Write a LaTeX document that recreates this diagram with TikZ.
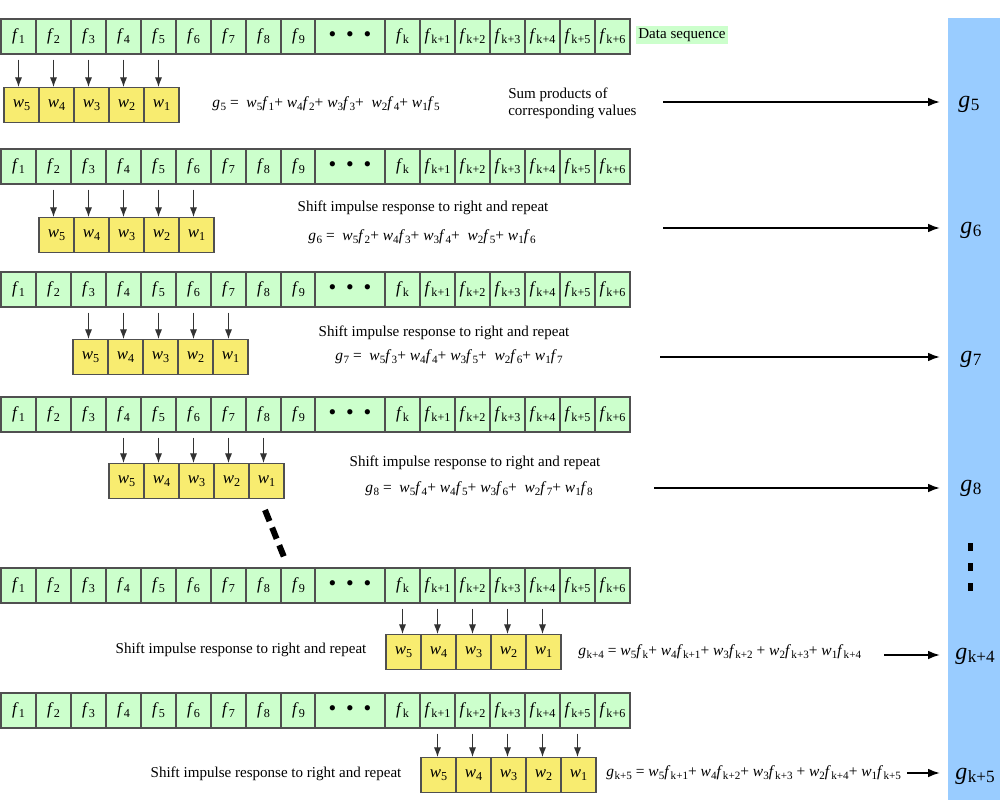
\documentclass[tikz,border=0pt]{standalone}
\usepackage{fontspec}
\setmainfont{Liberation Serif}
\usepackage{graphicx}
\usepackage{xcolor}
\usepackage{tikz}
\usetikzlibrary{calc}
\usetikzlibrary{arrows.meta}
\tikzset{>=latex}
\definecolor{datagreen}{RGB}{204,255,204}
\definecolor{wyellow}{RGB}{248,236,112}
\definecolor{barblue}{RGB}{153,204,255}
\definecolor{cellline}{RGB}{80,80,80}
\newcommand{\lowidx}[1]{\raisebox{-0.35ex}{\scalebox{0.72}{#1}}}
\newcommand{\fv}[1]{\textit{f}\kern0.2pt\lowidx{#1}}
\newcommand{\wv}[1]{\textit{w}\lowidx{#1}}
\newcommand{\gv}[1]{\textit{g}\kern0.4pt\lowidx{#1}}
\newcommand{\bigdot}{\scalebox{1.3}{\textbullet}}

\begin{document}
\begin{tikzpicture}[x=0.025cm, y=-0.025cm, font=\fontsize{10.7}{12.5}\selectfont]
\tikzset{dcell/.style={draw=cellline, fill=datagreen, line width=0.8pt, minimum width=0.875cm, minimum height=0.875cm, inner sep=0pt, font=\fontsize{12}{12}\selectfont}}
\tikzset{wcell/.style={dcell, fill=wyellow}}
\tikzset{tap/.style={-{Latex[length=0.24cm, width=0.18cm]}, draw=black!80, line width=0.7pt}}
\tikzset{sumarrow/.style={-{Latex[length=0.3cm, width=0.22cm]}, line width=1.4pt, shorten >=0.2cm}}
\tikzset{gsym/.style={inner sep=0pt, font=\fontsize{17}{17}\selectfont}}
\tikzset{eqn/.style={anchor=west, inner sep=0pt, font=\fontsize{11}{12.5}\selectfont}}
    \useasboundingbox (0,0) rectangle (1000,800);

    % output column
    \node[fill=barblue, anchor=north west, inner sep=0pt, minimum width=1.3cm, minimum height=19.55cm] (gbar) at (948,18) {};

    % data sequence, six copies
    \foreach \r/\y in {1/36.5, 2/166.5, 3/289.5, 4/414.5, 5/585.5, 6/710.5} {
        \foreach \i in {1,...,9}
            \node[dcell] (d\r-\i) at ({35*\i-16.5},\y) {\fv{\i}};
        \node[dcell, minimum width=1.75cm] (d\r-dots) at (350,\y) {\bigdot\hspace{7pt}\bigdot\hspace{7pt}\bigdot};
        \node[dcell] (d\r-k0) at (402.5,\y) {\fv{k}};
        \foreach \j in {1,...,6}
            \node[dcell] (d\r-k\j) at ({402.5+35*\j},\y) {\fv{k+\j}};
    }
    \node[fill=datagreen, inner sep=2pt, minimum width=2.3cm] (dlabel) at (682,35) {Data sequence};

    % impulse response, shifted one step per row
    \foreach \r/\x/\y in {1/4/105, 2/39/235, 3/73/357, 4/109/481, 5/386/652, 6/421/775} {
        \foreach \n [count=\c] in {5,4,3,2,1}
            \node[wcell] (w\r-\n) at ({\x+35*\c-17.5},\y) {\wv{\n}};
    }

    % taps
    \foreach \r in {1,...,4} {
        \foreach \n in {1,...,5} {
            \pgfmathtruncatemacro{\i}{\r+5-\n}
            \draw[tap] ([yshift=-0.125cm]d\r-\i.south) -- (d\r-\i.south |- w\r-\n.north);
        }
    }
    \foreach \n in {1,...,5} {
        \pgfmathtruncatemacro{\i}{5-\n}
        \pgfmathtruncatemacro{\j}{6-\n}
        \draw[tap] ([yshift=-0.125cm]d5-k\i.south) -- (d5-k\i.south |- w5-\n.north);
        \draw[tap] ([yshift=-0.125cm]d6-k\j.south) -- (d6-k\j.south |- w6-\n.north);
    }
% % % % % % % % % % % % % % % % % % %
    \node[eqn] (eq5) at (212,104) {\gv{5} = \ \wv{5}\fv{1}+ \wv{4}\fv{2}+ \wv{3}\fv{3}+ \ \wv{2}\fv{4}+ \wv{1}\fv{5}};
    \node[anchor=west, inner sep=0pt, align=left] (sumtxt) at (508,103.5) {Sum products of\\corresponding values};

    \node (shift6) at (423,208) {Shift impulse response to right and repeat};
    \node[eqn] (eq6) at (308,237) {\gv{6} = \ \wv{5}\fv{2}+ \wv{4}\fv{3}+ \wv{3}\fv{4}+ \ \wv{2}\fv{5}+ \wv{1}\fv{6}};

    \node (shift7) at (444,333) {Shift impulse response to right and repeat};
    \node[eqn] (eq7) at (335,357) {\gv{7} = \ \wv{5}\fv{3}+ \wv{4}\fv{4}+ \wv{3}\fv{5}+ \ \wv{2}\fv{6}+ \wv{1}\fv{7}};

    \node (shift8) at (475,463) {Shift impulse response to right and repeat};
    \node[eqn] (eq8) at (365,489) {\gv{8} = \ \wv{5}\fv{4}+ \wv{4}\fv{5}+ \wv{3}\fv{6}+ \ \wv{2}\fv{7}+ \wv{1}\fv{8}};

    \node (shiftk4) at (241,650) {Shift impulse response to right and repeat};
    \node[eqn] (eqk4) at (578,652) {\gv{k+4} = \wv{5}\fv{k}+ \wv{4}\fv{k+1}+ \wv{3}\fv{k+2} + \wv{2}\fv{k+3}+ \wv{1}\fv{k+4}};

    \node (shiftk5) at (276,774) {Shift impulse response to right and repeat};
    \node[eqn] (eqk5) at (606,773) {\gv{k+5} = \wv{5}\fv{k+1}+ \wv{4}\fv{k+2}+ \wv{3}\fv{k+3} + \wv{2}\fv{k+4}+ \wv{1}\fv{k+5}};
% % % % % % % % % % % % % % % % % % %
    \node[gsym] (g5) at (969,104) {\gv{5}};
    \node[gsym] (g6) at (971,230) {\gv{6}};
    \node[gsym] (g7) at (971,359) {\gv{7}};
    \node[gsym] (g8) at (971,488) {\gv{8}};
    \node[gsym] (gk4) at (975,656) {\gv{k+4}};
    \node[gsym] (gk5) at (975,776) {\gv{k+5}};

    \coordinate (a5) at (663,102);
    \coordinate (a6) at (663,228);
    \coordinate (a7) at (660,357);
    \coordinate (a8) at (654,488);
    \coordinate (ak4) at (884,655);
    \coordinate (ak5) at (907,773);
    \foreach \a in {a5,a6,a7,a8,ak4,ak5}
        \draw[sumarrow] (\a) -- (\a -| gbar.west);

    % ellipses
    \draw[line width=0.15cm, dash pattern=on 0.3cm off 0.175cm] (265,510) -- (284,557);
    \draw[line width=0.125cm, dash pattern=on 0.2cm off 0.3cm] (970,543) -- (970,592);
\end{tikzpicture}
\end{document}
